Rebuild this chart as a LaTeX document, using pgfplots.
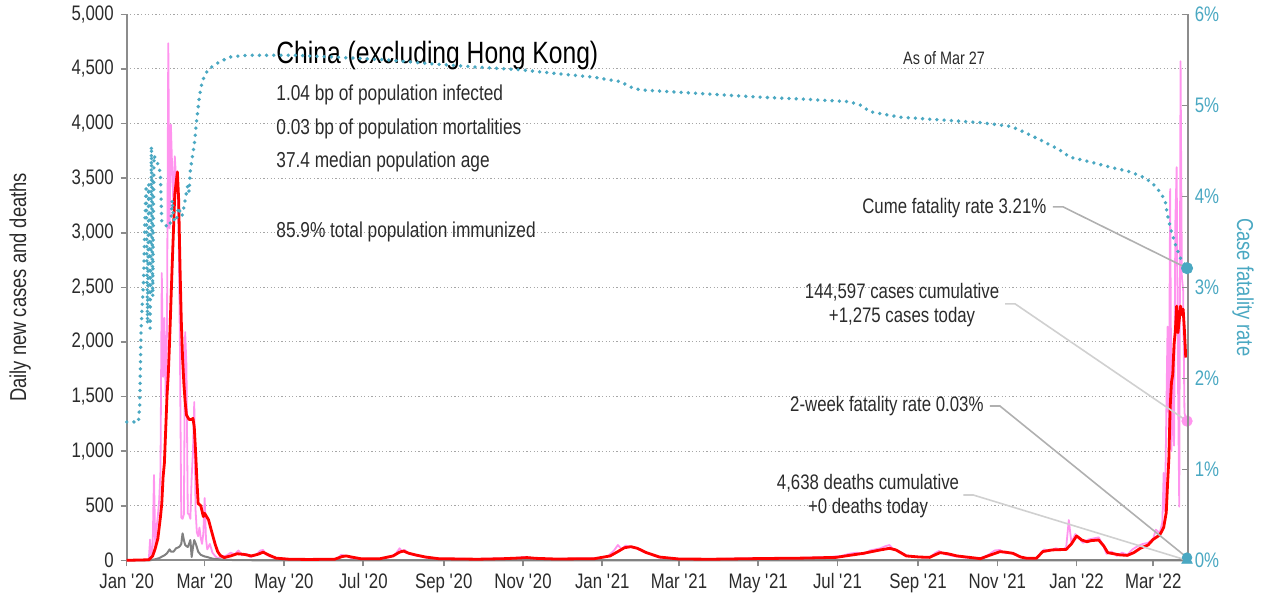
\documentclass[border=0pt]{standalone}
\usepackage{fontspec}
\setmainfont{Liberation Sans}[FakeStretch=0.8]
\usepackage{pgfplots}
\pgfplotsset{compat=1.18}
\definecolor{cfr}{HTML}{4AA8C2}
\definecolor{daily}{HTML}{FF94EE}
\definecolor{avg}{HTML}{FF0000}
\definecolor{dth}{HTML}{808080}
\definecolor{axgray}{HTML}{8C8C8C}
\definecolor{txt}{HTML}{2B2B2B}
\definecolor{lead}{HTML}{B0B0B0}
\definecolor{leadlt}{HTML}{D0D0D0}

\pgfplotsset{base/.style={
  width=530.5pt, height=273pt, scale only axis,
  xmin=0, xmax=816.5, clip=false,
  axis line style={axgray, line width=1pt, -},
  tick style={axgray, line width=0.8pt},
  major tick length=3pt,
  ticklabel style={font=\fontsize{10.5}{12}\selectfont, text=txt},
}}

\begin{document}
\begin{tikzpicture}
\useasboundingbox (-63.35pt,-20.85pt) rectangle (568.15pt,280.15pt);
\begin{axis}[base,
  ymin=0, ymax=5000,
  axis x line*=bottom, axis y line*=left,
  tick align=outside,
  xtick={0,60,121,182,244,305,366,425,486,547,609,670,731,790},
  xticklabels={Jan \textquotesingle20,Mar \textquotesingle20,May \textquotesingle20,Jul \textquotesingle20,Sep \textquotesingle20,Nov \textquotesingle20,Jan \textquotesingle21,Mar \textquotesingle21,May \textquotesingle21,Jul \textquotesingle21,Sep \textquotesingle21,Nov \textquotesingle21,Jan \textquotesingle22,Mar \textquotesingle22},
  ytick={0,500,...,5000},
  yticklabels={0,500,{1,000},{1,500},{2,000},{2,500},{3,000},{3,500},{4,000},{4,500},{5,000}},
  ymajorgrids,
  grid style={draw=black!35, line width=0.5pt, dash pattern=on 0.6pt off 1.2pt},
  ylabel={Daily new cases and deaths},
  every axis y label/.style={at={([xshift=-53.3pt]rel axis cs:0,0.5)}, rotate=90, anchor=center, font=\fontsize{11.5}{13}\selectfont, text=txt},
]
% daily new cases
\addplot[daily, line width=0.9pt, line join=round] coordinates {
(0,0)(15,0)(17,5)(18,190)(19,40)(20,130)(21,780)(22,120)(23,300)(24,410)(25,550)(26,820)(27,2630)(28,1680)(29,2220)(30,1500)(31,2100)(32,4735)(33,3040)(34,3990)(35,3580)(36,3240)(37,3700)(38,3500)(39,3420)(40,3000)(41,1900)(42,390)(43,380)(44,420)(45,2090)(46,1780)(47,430)(48,420)(49,380)(50,760)(51,1000)(52,1450)(53,460)(54,255)(55,220)(56,300)(57,200)(58,150)(59,250)(60,570)(61,200)(62,100)(64,150)(66,70)(68,40)(70,20)(73,30)(77,45)(80,70)(83,55)(86,90)(89,45)(92,60)(95,30)(99,45)(103,90)(105,95)(107,55)(110,35)(115,20)(125,10)(140,8)(160,12)(163,25)(165,50)(167,45)(170,35)(173,20)(180,12)(195,15)(203,30)(207,60)(210,110)(212,80)(214,95)(217,60)(222,45)(230,25)(240,15)(270,12)(290,18)(300,22)(306,30)(310,25)(315,15)(330,12)(360,18)(370,35)(375,90)(378,140)(381,100)(384,135)(388,120)(392,115)(397,80)(402,60)(410,25)(425,12)(450,10)(480,18)(502,20)(520,22)(540,30)(550,40)(556,60)(562,70)(567,55)(572,90)(580,110)(584,130)(587,140)(590,100)(595,80)(600,45)(610,30)(618,25)(622,65)(625,85)(630,55)(636,40)(645,25)(657,18)(663,50)(668,90)(672,95)(676,65)(682,70)(686,40)(693,15)(700,20)(703,60)(706,100)(710,85)(715,110)(720,95)(723,120)(725,369)(727,160)(730,240)(733,200)(736,160)(740,190)(744,200)(748,210)(751,150)(754,60)(758,80)(762,40)(766,70)(770,50)(774,100)(778,130)(782,150)(786,160)(790,200)(792,280)(795,250)(797,350)(798,800)(799,450)(800,1300)(801,2140)(802,1200)(803,3400)(804,1000)(805,1800)(806,1050)(807,3100)(808,3600)(809,1700)(810,490)(811,4570)(812,2600)(813,2470)(814,1350)(815,1300)(816,1275)};
% daily deaths
\addplot[dth, line width=1pt, line join=round] coordinates {
(0,0)(18,0)(22,10)(25,20)(27,33)(29,45)(31,64)(33,100)(34,80)(36,79)(38,110)(40,120)(41,131)(42,150)(43,247)(44,186)(45,140)(46,130)(47,122)(48,150)(49,186)(50,30)(51,120)(52,186)(53,156)(54,120)(55,79)(57,50)(60,35)(62,30)(66,15)(72,8)(80,3)(100,0)(816,0)};
% 7-day average of new cases
\addplot[avg, line width=1.4pt, line join=round] coordinates {
(0,0)(17,5)(20,40)(22,110)(24,200)(26,400)(27,520)(28,760)(29,890)(30,1190)(31,1500)(32,1700)(33,2000)(35,2700)(37,3350)(39,3557)(40,3300)(41,2700)(42,2200)(43,1850)(44,1620)(45,1450)(46,1330)(48,1290)(50,1290)(51,1300)(52,1220)(53,1000)(54,740)(55,520)(57,500)(59,400)(60,430)(61,410)(63,370)(65,280)(68,150)(70,80)(72,45)(75,25)(80,40)(85,60)(90,55)(96,40)(101,55)(105,75)(109,50)(115,20)(125,10)(140,8)(160,10)(166,35)(169,40)(173,30)(180,15)(195,15)(205,40)(210,75)(213,85)(217,65)(222,50)(230,30)(240,15)(270,10)(290,15)(300,20)(308,25)(315,18)(330,12)(360,15)(372,40)(378,80)(383,115)(388,125)(393,110)(400,70)(410,30)(425,12)(450,10)(480,15)(502,18)(520,20)(546,27)(556,45)(567,64)(580,95)(587,110)(592,95)(600,40)(610,30)(618,27)(622,50)(626,70)(632,60)(639,40)(650,25)(657,15)(665,50)(672,79)(676,75)(682,64)(688,30)(693,18)(700,18)(705,80)(712,95)(723,100)(727,150)(731,223)(735,186)(739,170)(742,180)(748,186)(752,130)(755,70)(764,50)(770,45)(775,70)(780,110)(786,140)(790,192)(795,232)(798,300)(800,438)(801,700)(802,928)(803,1400)(804,1629)(805,1700)(806,1980)(807,2100)(808,2328)(809,2084)(810,2200)(811,2328)(812,2250)(813,2300)(814,2100)(815,1857)};
% leader lines
\draw[lead, line width=0.8pt] (axis cs:712.8,3237) -- (axis cs:720.5,3237) -- (axis cs:816,2675);
\draw[leadlt, line width=0.8pt] (axis cs:675.9,2349) -- (axis cs:683.6,2349) -- (axis cs:816,1275);
\draw[lead, line width=0.8pt] (axis cs:664.3,1413) -- (axis cs:672,1413) -- (axis cs:816,25);
\draw[leadlt, line width=0.8pt] (axis cs:643.8,598) -- (axis cs:651.5,598) -- (axis cs:816,0);
\addplot[only marks, mark=*, mark size=2.6pt, daily, mark options={fill=daily, draw=daily}] coordinates {(816,1275)};
\addplot[only marks, mark=triangle*, mark size=3pt, cfr, mark options={fill=cfr, draw=cfr}] coordinates {(816,0)};
% text
\node[anchor=west, inner sep=0pt, font=\fontsize{15.4}{17}\selectfont, text=black] at (axis cs:114.9,4627) {China (excluding Hong Kong)};
\begin{scope}[every node/.style={anchor=west, inner sep=0pt, font=\fontsize{10.8}{12}\selectfont, text=txt}]
\node at (axis cs:114.9,4260) {1.04 bp of population infected};
\node at (axis cs:114.9,3949) {0.03 bp of population mortalities};
\node at (axis cs:114.9,3647) {37.4 median population age};
\node at (axis cs:114.9,3006) {85.9\% total population immunized};
\end{scope}
\node[font=\fontsize{9}{11}\selectfont, text=txt] at (axis cs:629,4596) {As of Mar 27};
\begin{scope}[every node/.style={font=\fontsize{10.5}{12}\selectfont, text=txt}]
\node[anchor=east, inner sep=0pt] at (axis cs:708,3226) {Cume fatality rate 3.21\%};
\node[align=center] at (axis cs:596.7,2338) {144,597 cases cumulative\\+1,275 cases today};
\node[anchor=east, inner sep=0pt] at (axis cs:659.7,1413) {2-week fatality rate 0.03\%};
\node[align=center] at (axis cs:570.5,589) {4,638 deaths cumulative\\+0 deaths today};
\end{scope}
\end{axis}

\begin{axis}[base,
  ymin=0, ymax=6,
  axis y line*=right, axis x line=none,
  tick align=inside,
  ytick={0,1,2,3,4,5,6},
  yticklabels={0\%,1\%,2\%,3\%,4\%,5\%,6\%},
  yticklabel style={text=cfr},
  ylabel={Case fatality rate},
  every axis y label/.style={at={([xshift=27.7pt]rel axis cs:1,0.5)}, rotate=-90, anchor=center, font=\fontsize{11.5}{13}\selectfont, text=cfr},
]
% cumulative case fatality rate
\addplot[cfr, line width=1.9pt, line cap=round, line join=round, dash pattern=on 0pt off 3.6pt] coordinates {
(0,1.52)(9,1.52)(10,1.69)(11,2.50)(12,2.82)(13,3.07)(14,3.72)(15,4.12)(16,2.60)(17,4.13)(18,2.55)(19,4.55)(20,2.90)(21,4.45)(23,4.38)(25,4.33)(26,4.21)(27,3.72)(28,3.70)(30,3.68)(32,3.66)(34,3.72)(35,3.96)(36,3.75)(38,3.72)(40,3.88)(42,3.78)(43,3.80)(45,3.96)(47,4.12)(48,4.05)(49,4.29)(52,4.57)(54,4.86)(56,5.10)(58,5.26)(62,5.38)(68,5.45)(79,5.53)(92,5.55)(107,5.55)(130,5.55)(160,5.53)(200,5.50)(231,5.46)(270,5.42)(303,5.39)(330,5.35)(359,5.31)(380,5.26)(388,5.20)(395,5.17)(441,5.13)(487,5.09)(518,5.07)(556,5.04)(565,5.00)(572,4.93)(595,4.87)(626,4.84)(657,4.81)(680,4.77)(687,4.73)(703,4.62)(718,4.51)(726,4.43)(741,4.38)(757,4.32)(772,4.27)(784,4.20)(791,4.12)(795,4.05)(799,3.96)(801,3.79)(804,3.61)(808,3.43)(811,3.32)(814,3.26)(816,3.21)};
\addplot[only marks, mark=*, mark size=2.8pt, cfr, mark options={fill=cfr, draw=cfr}] coordinates {(816,3.21)};
\addplot[only marks, mark=*, mark size=2.4pt, cfr, mark options={fill=cfr, draw=cfr}] coordinates {(816,0.03)};
\end{axis}
\end{tikzpicture}
\end{document}
